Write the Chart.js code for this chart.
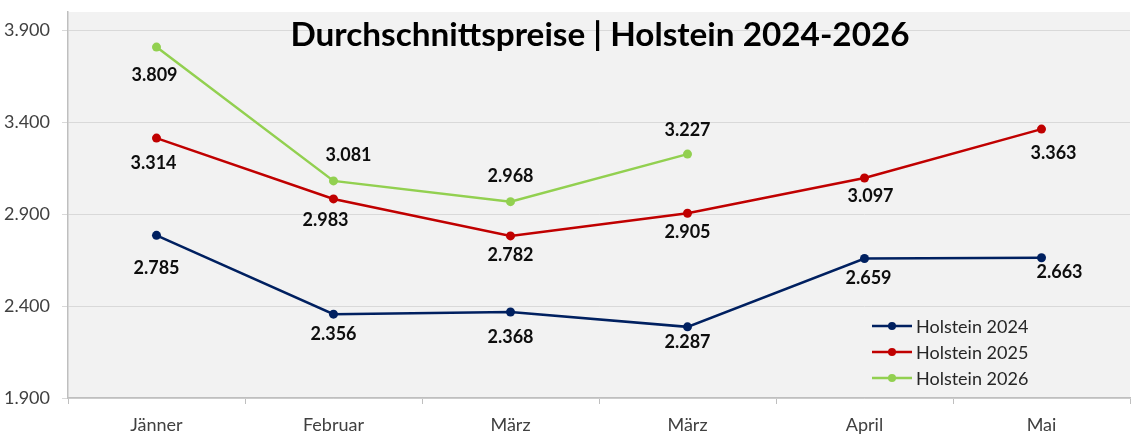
<!DOCTYPE html>
<html>
<head>
<meta charset="utf-8">
<script src="https://cdn.jsdelivr.net/npm/chart.js@4.4.1/dist/chart.umd.min.js"></script>
<style>
  html, body { margin: 0; padding: 0; background: #fff; }
  #wrap { width: 1140px; height: 439px; }
</style>
</head>
<body>
<div id="wrap"><canvas id="chart" width="1140" height="439"></canvas></div>
<script>
var months = ["Jänner", "Februar", "März", "März", "April", "Mai"];
var holstein2024 = [2785, 2356, 2368, 2287, 2659, 2663];
var holstein2025 = [3314, 2983, 2782, 2905, 3097, 3363];
var holstein2026 = [3809, 3081, 2968, 3227, null, null];
var yTicks = [1900, 2400, 2900, 3400, 3900];
var chartTitle = "Durchschnittspreise | Holstein 2024-2026";

// label nudges (px), like the hand-placed Excel labels
var labelDy = [
    [33, 20, 25, 15, 20, 14],
    [25, 21, 19, 19, 18, 24],
    [28, -26, -26, -24, 0, 0]
];
var labelDx = [
    [0, 0, 0, 0, 4, 18],
    [-3, -8, 0, 0, 6, 12],
    [-2, 15, 0, 0, 0, 0]
];

var FONT = "Lato, 'Open Sans', sans-serif";

function fmt(v) {
    var s = String(Math.round(v));
    return s.replace(/\B(?=(\d{3})+(?!\d))/g, ".");
}

var extras = {
    id: 'extras',
    beforeDraw: function (chart) {
        var a = chart.chartArea, ctx = chart.ctx;
        ctx.save();
        ctx.fillStyle = "#f2f2f2";
        ctx.fillRect(a.left, a.top, a.right - a.left, a.bottom - a.top);
        ctx.restore();
    },
    afterDatasetsDraw: function (chart) {
        var ctx = chart.ctx, a = chart.chartArea;
        ctx.save();
        // value labels
        ctx.font = "bold 18px " + FONT;
        ctx.fillStyle = "#0d0d0d";
        ctx.textAlign = "center";
        ctx.textBaseline = "middle";
        chart.data.datasets.forEach(function (ds, i) {
            var meta = chart.getDatasetMeta(i);
            meta.data.forEach(function (pt, j) {
                var v = ds.data[j];
                if (v === null || v === undefined) return;
                ctx.fillText(fmt(v), pt.x + labelDx[i][j], pt.y + labelDy[i][j]);
            });
        });
        // title
        ctx.font = "bold 30px " + FONT;
        var w = ctx.measureText(chartTitle).width;
        var size = 30 * 620 / w;
        ctx.font = "bold " + size.toFixed(1) + "px " + FONT;
        ctx.fillStyle = "#000";
        ctx.fillText(chartTitle, 600, 35);
        // legend inside plot
        ctx.font = "18px " + FONT;
        ctx.textAlign = "left";
        chart.data.datasets.forEach(function (ds, i) {
            var y = 326 + i * 26;
            var x0 = 872;
            ctx.strokeStyle = ds.borderColor;
            ctx.lineWidth = 2.5;
            ctx.beginPath();
            ctx.moveTo(x0, y);
            ctx.lineTo(x0 + 40, y);
            ctx.stroke();
            ctx.fillStyle = ds.borderColor;
            ctx.beginPath();
            ctx.arc(x0 + 20, y, 4, 0, Math.PI * 2);
            ctx.fill();
            ctx.fillStyle = "#262626";
            ctx.fillText(ds.label, x0 + 44, y + 1);
        });
        ctx.restore();
    }
};

new Chart(document.getElementById("chart").getContext("2d"), {
    type: 'line',
    data: {
        labels: months,
        datasets: [{
            label: "Holstein 2024",
            data: holstein2024,
            borderColor: "#002060",
            backgroundColor: "#002060",
            pointBackgroundColor: "#002060"
        }, {
            label: "Holstein 2025",
            data: holstein2025,
            borderColor: "#c00000",
            backgroundColor: "#c00000",
            pointBackgroundColor: "#c00000"
        }, {
            label: "Holstein 2026",
            data: holstein2026,
            borderColor: "#92d050",
            backgroundColor: "#92d050",
            pointBackgroundColor: "#92d050"
        }]
    },
    options: {
        responsive: false,
        animation: false,
        spanGaps: false,
        layout: {padding: {top: 12, right: 10, left: 0, bottom: 0}},
        elements: {
            line: {borderWidth: 2.5, tension: 0},
            point: {radius: 4.5, borderWidth: 0, hoverRadius: 4.5}
        },
        plugins: {
            legend: {display: false},
            title: {display: false},
            tooltip: {enabled: false}
        },
        scales: {
            x: {
                offset: true,
                grid: {
                    offset: true,
                    drawOnChartArea: false,
                    drawTicks: true,
                    tickLength: 6,
                    color: "#bfbfbf"
                },
                border: {color: "#bfbfbf", width: 1.5},
                ticks: {
                    color: "#404040",
                    font: {family: FONT, size: 18},
                    padding: 10,
                    maxRotation: 0,
                    autoSkip: false
                },
                afterFit: function (s) { s.height = 41; s.paddingLeft = 0; s.paddingRight = 0; }
            },
            y: {
                min: 1900,
                max: 4000,
                afterBuildTicks: function (s) {
                    s.ticks = yTicks.map(function (v) { return {value: v}; });
                },
                grid: {
                    color: "#d9d9d9",
                    drawTicks: true,
                    tickLength: 6
                },
                border: {color: "#bfbfbf", width: 1.5},
                ticks: {
                    color: "#404040",
                    font: {family: FONT, size: 18},
                    padding: 12,
                    callback: function (v) { return fmt(v); }
                },
                afterFit: function (s) { s.width = 68; s.paddingTop = 0; s.paddingBottom = 0; }
            }
        }
    },
    plugins: [extras]
});
</script>
</body>
</html>
